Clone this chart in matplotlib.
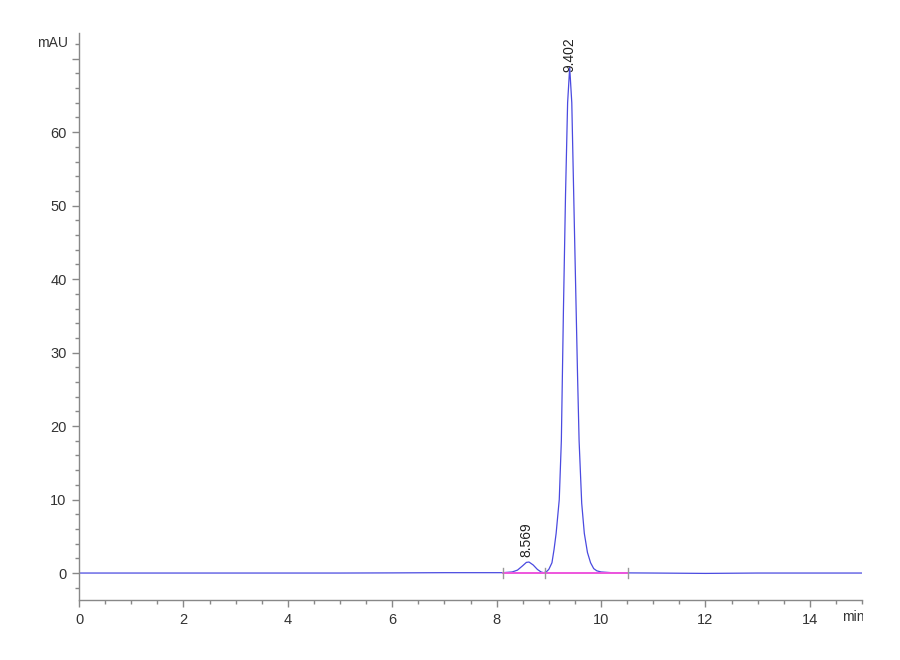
import matplotlib.pyplot as plt
from matplotlib.ticker import MultipleLocator
from matplotlib.transforms import Bbox, TransformedBbox

plt.rcParams['font.family'] = ['Liberation Sans Narrow', 'Liberation Sans', 'DejaVu Sans']

# chromatogram trace (min, mAU)
time_min = [0, 1, 2, 3, 4, 5, 6, 7, 7.5, 8.0, 8.12, 8.3, 8.4, 8.5, 8.57, 8.62, 8.7,
            8.78, 8.85, 8.9, 8.95, 9.0, 9.06, 9.1, 9.14, 9.2, 9.24, 9.28, 9.32, 9.36,
            9.40, 9.44, 9.49, 9.52, 9.55, 9.58, 9.63, 9.68, 9.74, 9.80, 9.86, 9.92,
            10.0, 10.2, 10.5, 11, 12, 13, 14, 15]
signal_mau = [0.0, 0.0, 0.0, 0.0, 0.0, 0.0, 0.02, 0.05, 0.05, 0.05, 0.05, 0.15, 0.4, 1.0,
              1.45, 1.5, 1.1, 0.5, 0.15, 0.05, 0.15, 0.5, 1.4, 3.2, 5.4, 10.0, 18.0, 35.8,
              51.5, 64.0, 68.8, 64.0, 47.0, 37.0, 27.0, 18.0, 9.5, 5.4, 2.8, 1.4, 0.6, 0.3,
              0.15, 0.05, 0.02, 0.0, -0.05, 0.0, 0.0, 0.0]

peak_times = [8.569, 9.402]
peak_labels = ['8.569', '9.402']
peak_label_y = [2.2, 68.2]

# integration baseline and its start/end marks
baseline_x = [8.12, 8.93, 10.52]

fig = plt.figure(figsize=(9, 6.6), dpi=100)
ax = fig.add_axes([0.0878, 0.0909, 0.87, 0.8591])

ax.plot(time_min, signal_mau, color='#4a4ae0', lw=0.9, zorder=2)
ax.plot([baseline_x[0], baseline_x[-1]], [0, 0], color='#ee55dd', lw=1.4, zorder=3)
for bx in baseline_x:
    ax.plot([bx, bx], [-0.7, 0.7], color='#999999', lw=1.0, zorder=4)

for t, lab, ly in zip(peak_times, peak_labels, peak_label_y):
    ax.text(t, ly, lab, rotation=90, ha='center', va='bottom', fontsize=10, color='#222222')

ax.set_xlim(0, 15)
ax.set_ylim(-3.67, 73.5)
ax.xaxis.set_major_locator(MultipleLocator(2))
ax.xaxis.set_minor_locator(MultipleLocator(0.5))
ax.yaxis.set_major_locator(MultipleLocator(10))
ax.yaxis.set_minor_locator(MultipleLocator(2))
ax.set_yticks(range(0, 71, 10))
ax.set_yticklabels([str(v) for v in range(0, 61, 10)] + [''])

for side in ['top', 'right']:
    ax.spines[side].set_visible(False)
for side in ['left', 'bottom']:
    ax.spines[side].set_color('#888888')
    ax.spines[side].set_linewidth(1.0)

ax.tick_params(which='major', direction='out', length=5, width=1, color='#888888',
               labelsize=10.5, labelcolor='#333333', pad=4)
ax.tick_params(which='minor', direction='out', length=3, width=1, color='#888888')

fig.text(0.0878 - 0.012, (660 - 43) / 660, 'mAU', ha='right', va='center',
         fontsize=10, color='#333333')
t = fig.text(842 / 900, (660 - 617) / 660, 'min', ha='left', va='center',
             fontsize=10, color='#333333')
t.set_clip_box(TransformedBbox(Bbox([[0, 0], [863 / 900, 1]]), fig.transFigure))
t.set_clip_on(True)

plt.savefig('out.png', dpi=100)
